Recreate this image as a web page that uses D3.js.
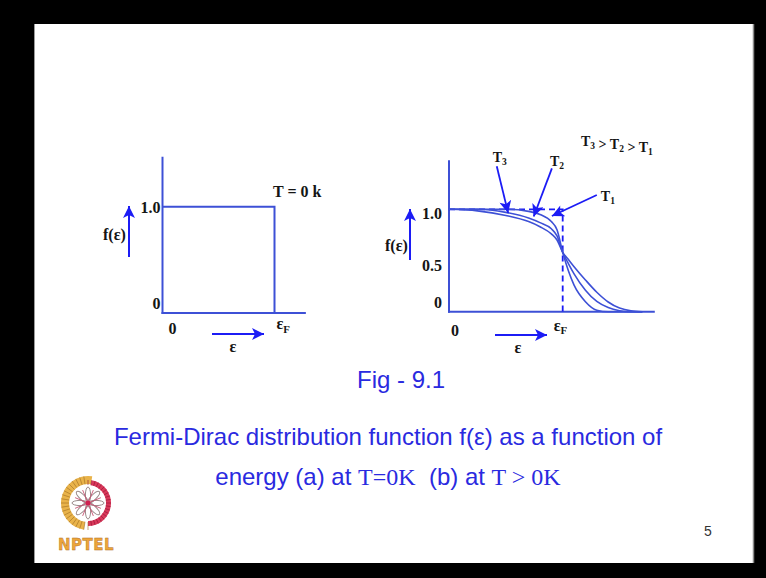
<!DOCTYPE html>
<html>
<head>
<meta charset="utf-8">
<script src="https://cdn.jsdelivr.net/npm/d3@7"></script>
<style>
  html, body { margin: 0; padding: 0; background: #000; }
  svg { display: block; }
  .lbl { font-family: "Liberation Serif", "Times New Roman", serif; font-weight: bold; fill: #151515; }
  .cap { font-family: "Liberation Sans", Arial, sans-serif; fill: #2a2ae0; }
  .capSerif { font-family: "Liberation Serif", "Times New Roman", serif; }
</style>
</head>
<body>
<svg id="fig" width="766" height="578"></svg>
<script>
// ---- data ----
// (a) T = 0 K: step function
const stepEnergy = [0, 1, 1];
const stepValue  = [1, 1, 0];

// (b) T > 0 K: occupation curves for three temperatures
const energy = [0, 0.25, 0.5, 0.7, 0.8, 0.9, 0.95, 1.0, 1.05, 1.1, 1.2, 1.3, 1.4, 1.5, 1.6, 1.7];
const fT3    = [1.0, 0.985, 0.94, 0.88, 0.83, 0.76, 0.70, 0.58, 0.51, 0.44, 0.31, 0.19, 0.095, 0.035, 0.008, 0];
const fT2    = [1.0, 1.0, 0.97, 0.915, 0.87, 0.81, 0.74, 0.58, 0.47, 0.37, 0.21, 0.10, 0.04, 0.01, 0, 0];
const fT1    = [1.0, 1.0, 1.0, 0.98, 0.95, 0.88, 0.80, 0.58, 0.40, 0.26, 0.098, 0.015, 0, 0, 0, 0];
const seriesNames = ["T3", "T2", "T1"];

const yTicksA = [0, 1.0];
const yTicksB = [0, 0.5, 1.0];
const yTickText = {0: "0", 0.5: "0.5", 1: "1.0"};

const LINE = "#3d50d6";
const ARROW = "#1c1cf5";

const svg = d3.select("#fig");

// slide frame
svg.append("rect").attr("x", 34).attr("y", 24).attr("width", 720).attr("height", 539).attr("fill", "#fff");
svg.append("line").attr("x1", 34.5).attr("x2", 34.5).attr("y1", 24).attr("y2", 563).attr("stroke", "#9a9a9a");
svg.append("line").attr("x1", 753.5).attr("x2", 753.5).attr("y1", 24).attr("y2", 563).attr("stroke", "#8a8a8a").attr("stroke-width", 1.5);

// arrowhead marker
const defs = svg.append("defs");
defs.append("marker").attr("id", "ah").attr("viewBox", "0 0 10 10")
  .attr("refX", 10).attr("refY", 5).attr("markerUnits", "userSpaceOnUse")
  .attr("markerWidth", 14).attr("markerHeight", 12).attr("orient", "auto")
  .append("path").attr("d", "M0,0 L10,5 L0,10 L2.5,5 Z").attr("fill", ARROW);

function arrow(g, x1, y1, x2, y2, w) {
  g.append("line").attr("x1", x1).attr("y1", y1).attr("x2", x2).attr("y2", y2)
    .attr("stroke", ARROW).attr("stroke-width", w || 2).attr("marker-end", "url(#ah)");
}

function subText(g, x, y, main, sub, size, anchor) {
  const t = g.append("text").attr("class", "lbl").attr("x", x).attr("y", y)
    .attr("font-size", size).attr("text-anchor", anchor || "start");
  t.append("tspan").text(main);
  t.append("tspan").attr("font-size", size * 0.68).attr("dy", size * 0.22).text(sub);
  return t;
}

// ---------- panel (a) ----------
const xA = d3.scaleLinear().domain([0, 1]).range([162.5, 274.5]);
const yA = d3.scaleLinear().domain([0, 1]).range([313, 206.7]);
const gA = svg.append("g");

gA.append("line").attr("x1", xA(0)).attr("x2", xA(0)).attr("y1", yA(0) + 1).attr("y2", yA(1.47))
  .attr("stroke", LINE).attr("stroke-width", 2);
gA.append("line").attr("x1", xA(0) - 1).attr("x2", xA(1.28)).attr("y1", yA(0)).attr("y2", yA(0))
  .attr("stroke", LINE).attr("stroke-width", 2);

gA.append("path")
  .datum(stepEnergy.map((e, i) => [e, stepValue[i]]))
  .attr("d", d3.line().x(d => xA(d[0])).y(d => yA(d[1])))
  .attr("fill", "none").attr("stroke", LINE).attr("stroke-width", 2);

yTicksA.forEach(v => {
  gA.append("text").attr("class", "lbl").attr("x", xA(0) - 2).attr("y", yA(v) + (v === 0 ? -4 : 6))
    .attr("font-size", 16).attr("text-anchor", "end").text(yTickText[v]);
});
gA.append("text").attr("class", "lbl").attr("x", xA(0) + 10).attr("y", yA(0) + 21)
  .attr("font-size", 16).attr("text-anchor", "middle").text("0");
subText(gA, xA(1) + 2, yA(0) + 16, "\u03B5", "F", 16);
gA.append("text").attr("class", "lbl").attr("x", 273).attr("y", 197).attr("font-size", 16).text("T = 0 k");
gA.append("text").attr("class", "lbl").attr("x", 103).attr("y", 240).attr("font-size", 16).text("f(\u03B5)");
arrow(gA, 129, 257, 129, 206, 2);
arrow(gA, 212, 334, 264, 334, 2);
gA.append("text").attr("class", "lbl").attr("x", 233).attr("y", 352).attr("font-size", 16)
  .attr("text-anchor", "middle").text("\u03B5");

// ---------- panel (b) ----------
const xB = d3.scaleLinear().domain([0, 1]).range([449, 562.7]);
const yB = d3.scaleLinear().domain([0, 1]).range([311.7, 209.3]);
const gB = svg.append("g");

gB.append("line").attr("x1", xB(0)).attr("x2", xB(0)).attr("y1", yB(0) + 1).attr("y2", yB(1.48))
  .attr("stroke", LINE).attr("stroke-width", 2);
gB.append("line").attr("x1", xB(0) - 1).attr("x2", xB(1.81)).attr("y1", yB(0)).attr("y2", yB(0))
  .attr("stroke", LINE).attr("stroke-width", 2);

// dashed T = 0 reference
gB.append("path")
  .datum(stepEnergy.map((e, i) => [e, stepValue[i]]))
  .attr("d", d3.line().x(d => xB(d[0])).y(d => yB(d[1])))
  .attr("fill", "none").attr("stroke", ARROW).attr("stroke-width", 1.8)
  .attr("stroke-dasharray", "6,4");

const curveLine = d3.line().x(d => xB(d[0])).y(d => yB(d[1])).curve(d3.curveMonotoneX);
[fT3, fT2, fT1].forEach((vals, k) => {
  gB.append("path")
    .datum(energy.map((e, i) => [e, vals[i]]))
    .attr("class", "fd " + seriesNames[k])
    .attr("d", curveLine)
    .attr("fill", "none").attr("stroke", LINE).attr("stroke-width", 1.6);
});

yTicksB.forEach(v => {
  gB.append("text").attr("class", "lbl").attr("x", xB(0) - 7).attr("y", yB(v) + (v === 0 ? -4 : 10))
    .attr("font-size", 16).attr("text-anchor", "end").text(yTickText[v]);
});
gB.append("text").attr("class", "lbl").attr("x", xB(0) + 6).attr("y", yB(0) + 24)
  .attr("font-size", 16).attr("text-anchor", "middle").text("0");
subText(gB, xB(1) - 9, yB(0) + 19, "\u03B5", "F", 16);
gB.append("text").attr("class", "lbl").attr("x", 385).attr("y", 251).attr("font-size", 16).text("f(\u03B5)");
arrow(gB, 410, 260, 410, 209, 2);
arrow(gB, 495, 335, 547, 335, 2);
gB.append("text").attr("class", "lbl").attr("x", 518).attr("y", 353).attr("font-size", 16)
  .attr("text-anchor", "middle").text("\u03B5");

// temperature pointers
const pointers = [
  {name: "T3", from: [0.42, 1.42], to: [0.52, 0.965], lx: -4, ly: -4},
  {name: "T2", from: [0.905, 1.40], to: [0.745, 0.93], lx: -2, ly: -2},
  {name: "T1", from: [1.30, 1.14], to: [0.905, 0.935], lx: 4, ly: 6}
];
pointers.forEach(p => {
  arrow(gB, xB(p.from[0]), yB(p.from[1]), xB(p.to[0]), yB(p.to[1]), 1.8);
  subText(gB, xB(p.from[0]) + p.lx, yB(p.from[1]) + p.ly, "T", p.name.slice(1), 14);
});

const ord = gB.append("text").attr("class", "lbl").attr("x", 581).attr("y", 146).attr("font-size", 14);
[["T", "3"], [" > T", "2"], [" > T", "1"]].forEach(([m, s]) => {
  ord.append("tspan").text(m);
  ord.append("tspan").attr("font-size", 9.5).attr("dy", 3).text(s);
  ord.append("tspan").attr("dy", -3).text("");
});

// ---------- captions ----------
svg.append("text").attr("class", "cap").attr("x", 401).attr("y", 388).attr("font-size", 24)
  .attr("text-anchor", "middle").text("Fig - 9.1");
svg.append("text").attr("class", "cap").attr("x", 388).attr("y", 445).attr("font-size", 24)
  .attr("text-anchor", "middle").text("Fermi-Dirac distribution function f(\u03B5) as a function of");
const c2 = svg.append("text").attr("class", "cap").attr("x", 388).attr("y", 485).attr("font-size", 24)
  .attr("text-anchor", "middle");
c2.append("tspan").text("energy (a) at ");
c2.append("tspan").attr("class", "capSerif").attr("font-size", 24).text("T=0K");
c2.append("tspan").text("\u00A0\u00A0(b) at ");
c2.append("tspan").attr("class", "capSerif").attr("font-size", 24).text("T > 0K");

svg.append("text").attr("x", 708).attr("y", 536).attr("font-size", 14)
  .attr("font-family", "Liberation Sans, Arial, sans-serif").attr("fill", "#333")
  .attr("text-anchor", "middle").text("5");

// ---------- logo ----------
const logo = svg.append("g").attr("transform", "translate(88,503)");
const arcL = d3.arc().innerRadius(19).outerRadius(27);
logo.append("path").attr("d", arcL({startAngle: Math.PI * 1.05, endAngle: Math.PI * 2.05}))
  .attr("fill", "#e9b34a");
const arcR = d3.arc().innerRadius(18).outerRadius(23);
logo.append("path").attr("d", arcR({startAngle: Math.PI * 0.05, endAngle: Math.PI * 1.0}))
  .attr("fill", "#d9385a");
// hatching across the rings
d3.range(0, 40).forEach(i => {
  const a = i / 40 * 2 * Math.PI;
  const r0 = i < 20 ? 18 : 19, r1 = i < 20 ? 23 : 27;
  logo.append("line")
    .attr("x1", r0 * Math.sin(a)).attr("y1", -r0 * Math.cos(a))
    .attr("x2", r1 * Math.sin(a)).attr("y2", -r1 * Math.cos(a))
    .attr("stroke", i < 20 ? "#8a1030" : "#9a6a20").attr("stroke-width", 0.8).attr("opacity", 0.7);
});
d3.range(8).forEach(i => {
  logo.append("ellipse").attr("cx", 0).attr("cy", -8).attr("rx", 2.6).attr("ry", 8)
    .attr("transform", `rotate(${i * 45})`)
    .attr("fill", "none").attr("stroke", "#9a8a8a").attr("stroke-width", 1);
});
d3.range(8).forEach(i => {
  logo.append("line").attr("x1", 0).attr("y1", 0).attr("x2", 0).attr("y2", -14)
    .attr("transform", `rotate(${i * 45 + 22.5})`)
    .attr("stroke", "#c85070").attr("stroke-width", 0.8);
});
logo.append("circle").attr("r", 2.5).attr("fill", "#d02050");
svg.append("text").attr("x", 86).attr("y", 550).attr("text-anchor", "middle")
  .attr("font-family", "DejaVu Sans, sans-serif").attr("font-weight", "bold").attr("font-size", 15)
  .attr("letter-spacing", 0.5)
  .attr("fill", "#eda53a").attr("stroke", "#b07020").attr("stroke-width", 0.4).text("NPTEL");
</script>
</body>
</html>
